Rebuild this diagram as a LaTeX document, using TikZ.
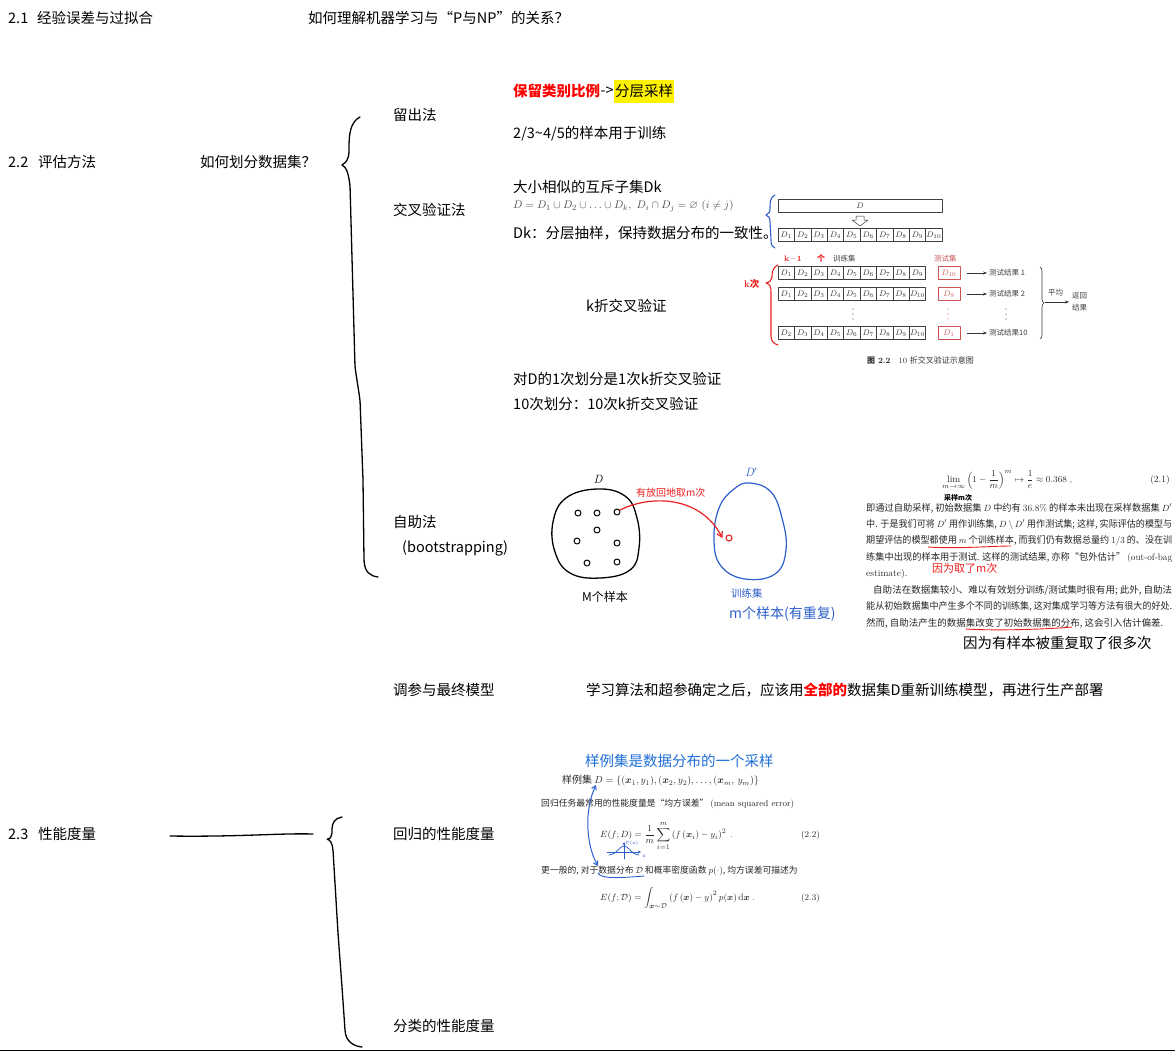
\documentclass[tikz,border=0pt]{standalone}
\usepackage{amsmath,amssymb}
\usepackage{graphicx}
\usepackage{fontspec}
\newfontfamily\cjk{Noto Sans CJK SC}
\usetikzlibrary{arrows.meta,decorations.pathreplacing}
\definecolor{hblue}{RGB}{45,95,200}
\definecolor{sblue}{RGB}{30,110,215}
\definecolor{hred}{RGB}{235,30,30}
\definecolor{tred}{RGB}{205,85,85}
\newcommand{\fitw}[2]{\resizebox{#1}{\height}{#2}}
\tikzset{
 mtext/.style={anchor=west, inner sep=0pt, font=\cjk\fontsize{14.5}{17}\selectfont},
 btext/.style={anchor=west, inner sep=0pt, text=black!85, font=\cjk\fontsize{9.5}{11}\selectfont},
 ftext/.style={anchor=west, inner sep=0pt, text=black!85, font=\fontsize{9.5}{11}\selectfont},
 hand/.style={anchor=west, inner sep=0pt, font=\cjk\fontsize{10}{12}\selectfont},
 fig/.style={anchor=west, inner sep=0pt, text=black!75, font=\cjk\fontsize{7.5}{9}\selectfont},
 cell/.style={draw=black!75, line width=0.5pt, minimum width=16.4pt, minimum height=13pt, inner sep=0pt, text=black!80, font=\fontsize{8}{9}\selectfont},
 tcell/.style={cell, draw=tred, text=tred, minimum width=22pt},
 bigbrace/.style={line width=1.3pt, rounded corners=2pt},
 vdot/.style={circle, fill=#1, minimum size=1.3pt, inner sep=0pt},
}
\begin{document}
\begin{tikzpicture}[x=1pt,y=-1pt,line join=round,line cap=round]
\useasboundingbox (0,0) rectangle (1175,1053);

% ---------- section headings ----------
\node[mtext] (s21n) at (8,18) {2.1};
\node[mtext] (s21) at (37,18) {经验误差与过拟合};
\node[mtext] (pnp) at (308,18) {如何理解机器学习与“P与NP”的关系？};
\node[mtext] (s22n) at (8,162) {2.2};
\node[mtext] (s22) at (38,162) {评估方法};
\node[mtext] (split) at (200,162) {如何划分数据集？};
\node[mtext] (s23n) at (8,834) {2.3};
\node[mtext] (s23) at (38,834) {性能度量};

% ---------- big braces ----------
\draw[bigbrace] (360,117) .. controls (350,122) and (349,135) .. (349,150)
  .. controls (349,158) and (346,163) .. (341,165)
  .. controls (346,167) and (348,172) .. (350,185)
  -- (355,367) -- (360,400) -- (363,480) -- (364,560)
  .. controls (365,572) and (370,576) .. (378,577);
\coordinate (l23a) at (170,836);
\coordinate (l23b) at (313,834);
\draw[line width=1.3pt] (l23a) .. controls (240,837) and (280,833) .. (l23b);
\draw[bigbrace] (342,817) .. controls (335,818) and (332,823) .. (332,831)
  .. controls (332,836) and (330,839) .. (326,839)
  .. controls (330,840) and (332,843) .. (333,850)
  -- (338,933) -- (342,987) -- (345,1030)
  .. controls (346,1040) and (352,1046) .. (362,1047);
\coordinate (bl) at (0,1050.5);
\coordinate (br) at (1175,1050.5);
\draw[line width=1.2pt] (bl) -- (br);

% ---------- 2.2 items ----------
\node[mtext] (hold) at (393,115) {留出法};
\node[mtext, text=red, font=\cjk\bfseries\fontsize{14.5}{17}\selectfont] (keep) at (513,91) {保留类别比例};
\node[mtext] (arr) at (keep.east) {->};
\node[mtext, fill=yellow, inner xsep=1pt, minimum height=23pt] (strat) at (arr.east) {分层采样};
\node[mtext] (ratio) at (513,134) {2/3\textasciitilde4/5的样本用于训练};

\node[mtext] (cv) at (393,210) {交叉验证法};
\node[mtext] (dk1) at (513,187) {大小相似的互斥子集Dk};
\node[anchor=west, inner sep=0pt, text=black!70, font=\fontsize{11}{12}\selectfont] (dkf) at (513,206) {$D=D_1\cup D_2\cup\ldots\cup D_k,\ D_i\cap D_j=\varnothing\ (i\neq j)$};
\node[mtext] (dk2) at (513,233) {Dk：分层抽样，保持数据分布的一致性。};
\node[mtext] (kcv) at (586,306) {k折交叉验证};
\node[mtext] (one) at (513,379) {对D的1次划分是1次k折交叉验证};
\node[mtext] (ten) at (513,404) {10次划分：10次k折交叉验证};

% ---------- cross validation figure ----------
\draw[hblue, line width=1.1pt] (775,195) .. controls (770,197) and (770,203) .. (770,208)
  .. controls (770,212) and (769,214) .. (766,215)
  .. controls (769,216) and (770,218) .. (770,222)
  -- (771,240) .. controls (771,245) and (772,247) .. (775,248);
\node[cell, minimum width=164pt] (Dbox) at (860,206) {$D$};
\draw[line width=0.5pt, black!80] (856,216) -- (864,216) -- (864,220) -- (868,220) -- (860,226) -- (852,220) -- (856,220) -- cycle;
\foreach \i in {1,...,10} \node[cell] (r0c\i) at ({778+16.4*(\i-0.5)},235) {$D_{\i}$};

\node[hand, text=hred, font=\fontsize{8}{9}\selectfont\bfseries] (km1) at (784,259) {k\,--\,1};
\node[hand, text=hred, font=\cjk\bfseries\fontsize{8}{9}\selectfont] (kge) at (817,258) {个};
\node[fig] (trlab) at (833,259) {训练集};
\node[fig, text=tred] (telab) at (934,259) {测试集};
\draw[hred, line width=1.1pt] (778,265) .. controls (773,267) and (772,272) .. (772,277)
  .. controls (772,280) and (770,282) .. (766,283)
  .. controls (770,284) and (771,287) .. (771,292)
  -- (771,336) .. controls (771,341) and (774,344) .. (778,345);
\node[hand, text=hred, font=\bfseries\fontsize{9.5}{10}\selectfont] (kci) at (744,284) {k\cjk 次};

\foreach \i in {1,...,9} \node[cell] (r1c\i) at ({778+16.4*(\i-0.5)},273) {$D_{\i}$};
\node[tcell] (t1) at (949,273) {$D_{10}$};
\foreach \i [count=\j] in {1,2,3,4,5,6,7,8,10} \node[cell] (r2c\j) at ({778+16.4*(\j-0.5)},294) {$D_{\i}$};
\node[tcell] (t2) at (949,294) {$D_{9}$};
\foreach \i [count=\j] in {2,...,10} \node[cell] (r4c\j) at ({778+16.4*(\j-0.5)},333) {$D_{\i}$};
\node[tcell] (t4) at (949,333) {$D_{1}$};
\foreach \d [count=\n] in {309,314,319} {
  \node[vdot=black!70] (va\n) at (853,\d) {};
  \node[vdot=tred] (vb\n) at (948,\d) {};
  \node[vdot=black!70] (vc\n) at (1006,\d) {};
}

\node[fig] (res1) at (989,273) {测试结果 1};
\node[fig] (res2) at (989,294) {测试结果 2};
\node[fig] (res4) at (989,333) {测试结果10};
\foreach \k in {1,2,4} \draw[-{Stealth[length=4pt,width=3pt]}, black!80, line width=0.6pt] (t\k.east) ++(7,0) -- ([xshift=-2pt]res\k.west);
\draw[decorate, decoration={brace, amplitude=4pt}, black!80, line width=0.6pt] (1040,267) -- (1040,339);
\node[fig] (avg) at (1048,293) {平均};
\coordinate (avgs) at (1045,302);
\node[fig] (ret1) at (1072,296) {返回};
\node[fig] (ret2) at (1072,308) {结果};
\draw[-{Stealth[length=4pt,width=3pt]}, black!80, line width=0.6pt] (avgs) -- ([xshift=-3pt]ret1.west |- avgs);
\node[anchor=west, inner sep=0pt, text=black!80, font=\fontsize{8}{9}\selectfont] (cap) at (867,360) {{\cjk\bfseries 图} \textbf{2.2}\quad 10 {\cjk 折交叉验证示意图}};

% ---------- bootstrap ----------
\node[mtext] (boot) at (393,522) {自助法};
\node[mtext] (bootE) at (402,548) {(bootstrapping)};
\draw[line width=1.3pt] plot[smooth cycle, tension=0.7] coordinates {(597,489) (625,496) (637,518) (639,548) (630,570) (600,578) (570,573) (555,552) (553,522) (566,498)};
\node[inner sep=0pt, font=\itshape\fontsize{12}{12}\selectfont] (bD) at (598,479) {D};
\foreach \p [count=\n] in {(578,513),(597,513),(617,512),(597,530),(577,541),(617,543),(587,563),(617,562)}
  \draw[line width=1pt] \p circle (3);
\node[hand, font=\cjk\fontsize{12}{14}\selectfont] (bM) at (582,597) {M个样本};
\draw[hblue, line width=1.2pt] plot[smooth cycle, tension=0.7] coordinates {(750,483) (771,492) (782,518) (786,550) (775,574) (745,579) (721,566) (714,540) (719,508) (734,489)};
\node[inner sep=0pt, text=hblue, font=\itshape\fontsize{12}{12}\selectfont] (bD2) at (751,472) {D$'$};
\node[hand, text=hblue, font=\cjk\fontsize{10.5}{12}\selectfont] (btr) at (731,593) {训练集};
\node[hand, text=hblue, font=\cjk\fontsize{14}{16}\selectfont] (bm) at (729,614) {m个样本(有重复)};
\coordinate (arS) at (620,510);
\node[circle, draw=hred, line width=1.1pt, minimum size=6pt, inner sep=0pt] (rc) at (729,538) {};
\draw[hred, line width=1.2pt, -{Straight Barb[length=5pt,width=6pt]}] (arS) .. controls (650,495) and (700,495) .. ([xshift=-3pt]rc.west);
\node[hand, text=hred, font=\cjk\fontsize{10}{12}\selectfont] (bl1) at (636,493) {有放回地取m次};

% ---------- textbook excerpt (bootstrap) ----------
\node[anchor=west, inner sep=0pt, text=black!85, font=\fontsize{9.5}{11}\selectfont] (f21) at (942,480) {$\displaystyle\lim_{m\to\infty}\left(1-\frac{1}{m}\right)^{m}\mapsto\frac{1}{e}\approx 0.368\;,$};
\node[anchor=east, inner sep=0pt, text=black!85, font=\fontsize{9.5}{11}\selectfont] (n21) at (1170,480) {(2.1)};
\node[hand, font=\cjk\bfseries\fontsize{7}{8}\selectfont] (cym) at (944,498) {采样m次};
\node[btext] (p1) at (866,508) {\fitw{306pt}{即通过自助采样, 初始数据集 $D$ 中约有 \textrm{36.8\%} 的样本未出现在采样数据集 $D'$}};
\node[btext] (p2) at (866,524.5) {\fitw{306pt}{中. 于是我们可将 $D'$ 用作训练集, $D\setminus D'$ 用作测试集; 这样, 实际评估的模型与}};
\node[btext] (p3) at (866,541) {\fitw{306pt}{期望评估的模型都使用 $m$ 个训练样本, 而我们仍有数据总量约 \textrm{1/3} 的、没在训}};
\node[btext] (p4) at (866,557.5) {\fitw{306pt}{练集中出现的样本用于测试. 这样的测试结果, 亦称“包外估计” \textrm{(out-of-bag}}};
\node[btext] (p5) at (866,574) {\textrm{estimate).}};
\node[btext] (q1) at (873,590) {\fitw{299pt}{自助法在数据集较小、难以有效划分训练/测试集时很有用; 此外, 自助法}};
\node[btext] (q2) at (866,606.5) {\fitw{306pt}{能从初始数据集中产生多个不同的训练集, 这对集成学习等方法有很大的好处.}};
\node[btext] (q3) at (866,623) {然而, 自助法产生的数据集改变了初始数据集的分布, 这会引入估计偏差.};
\coordinate (u1a) at (928,547); \coordinate (u1b) at (1011,546);
\draw[hred, line width=0.9pt] (u1a) .. controls (960,549) and (990,546) .. (u1b);
\coordinate (u2a) at (966,629); \coordinate (u2b) at (1072,627);
\draw[hred, line width=0.9pt] (u2a) .. controls (1000,631) and (1050,629) .. (u2b);
\node[hand, text=hred, font=\cjk\fontsize{11}{12}\selectfont] (why1) at (932,568) {因为取了m次};
\node[mtext] (why) at (963,643) {因为有样本被重复取了很多次};

% ---------- tuning ----------
\node[mtext] (tune) at (393,690) {调参与最终模型};
\node[mtext] (tuneT) at (586,690) {学习算法和超参确定之后，应该用{\color{red}\bfseries 全部的}数据集D重新训练模型，再进行生产部署};

% ---------- 2.3 items ----------
\node[mtext] (reg) at (393,834) {回归的性能度量};
\node[mtext] (cls) at (393,1026) {分类的性能度量};
\node[mtext, text=sblue] (samp) at (585,761) {样例集是数据分布的一个采样};
\node[btext, font=\cjk\fontsize{10}{12}\selectfont] (ex) at (562,781) {样例集 $D=\{(\boldsymbol{x}_1,y_1),(\boldsymbol{x}_2,y_2),\ldots,(\boldsymbol{x}_m,\,y_m)\}$};
\node[btext, font=\cjk\fontsize{8.8}{10}\selectfont] (mse) at (541,804) {回归任务最常用的性能度量是“均方误差” \textrm{(mean squared error)}};
\node[ftext] (f22) at (600,836) {$\displaystyle E(f;D)=\frac{1}{m}\sum_{i=1}^{m}\left(f\left(\boldsymbol{x}_i\right)-y_i\right)^2\;.$};
\node[anchor=east, inner sep=0pt, text=black!85, font=\fontsize{8.8}{10}\selectfont] (n22) at (820,835) {(2.2)};
\node[btext, font=\cjk\fontsize{8.8}{10}\selectfont] (gen) at (541,871) {更一般的, 对于数据分布 $\mathcal{D}$ 和概率密度函数 $p(\cdot)$, 均方误差可描述为};
\node[ftext] (f23) at (600,898) {$\displaystyle E(f;\mathcal{D})=\int_{\boldsymbol{x}\sim\mathcal{D}}\left(f\left(\boldsymbol{x}\right)-y\right)^2p(\boldsymbol{x})\,\mathrm{d}\boldsymbol{x}\;.$};
\node[anchor=east, inner sep=0pt, text=black!85, font=\fontsize{8.8}{10}\selectfont] (n23) at (820,898) {(2.3)};
% gaussian sketch
\draw[hblue, line width=0.8pt, -{Stealth[length=3pt,width=3pt]}] (607,852) -- (641,852);
\draw[hblue, line width=0.8pt, -{Stealth[length=3pt,width=3pt]}] (624,859) -- (624,842);
\draw[hblue, line width=0.8pt] (609,855) .. controls (618,854) and (619,846) .. (624,846) .. controls (629,846) and (630,854) .. (639,855);
\node[inner sep=0pt, text=hblue, font=\fontsize{4.5}{5}\selectfont] (gpx) at (632,843) {P(x)};
\node[inner sep=0pt, text=hblue, font=\fontsize{5}{5}\selectfont] (gx) at (644,856) {x};
\coordinate (da) at (596,785);
\coordinate (db) at (598,866);
\draw[hblue, line width=1pt, {Straight Barb[length=4pt,width=5pt]}-{Straight Barb[length=4pt,width=5pt]}] (da) .. controls (584,810) and (586,845) .. (db);
\coordinate (ua) at (598,873); \coordinate (ub) at (644,876);
\draw[hblue, line width=0.9pt] (ua) .. controls (600,879) and (620,878) .. (ub);
\end{tikzpicture}
\end{document}
